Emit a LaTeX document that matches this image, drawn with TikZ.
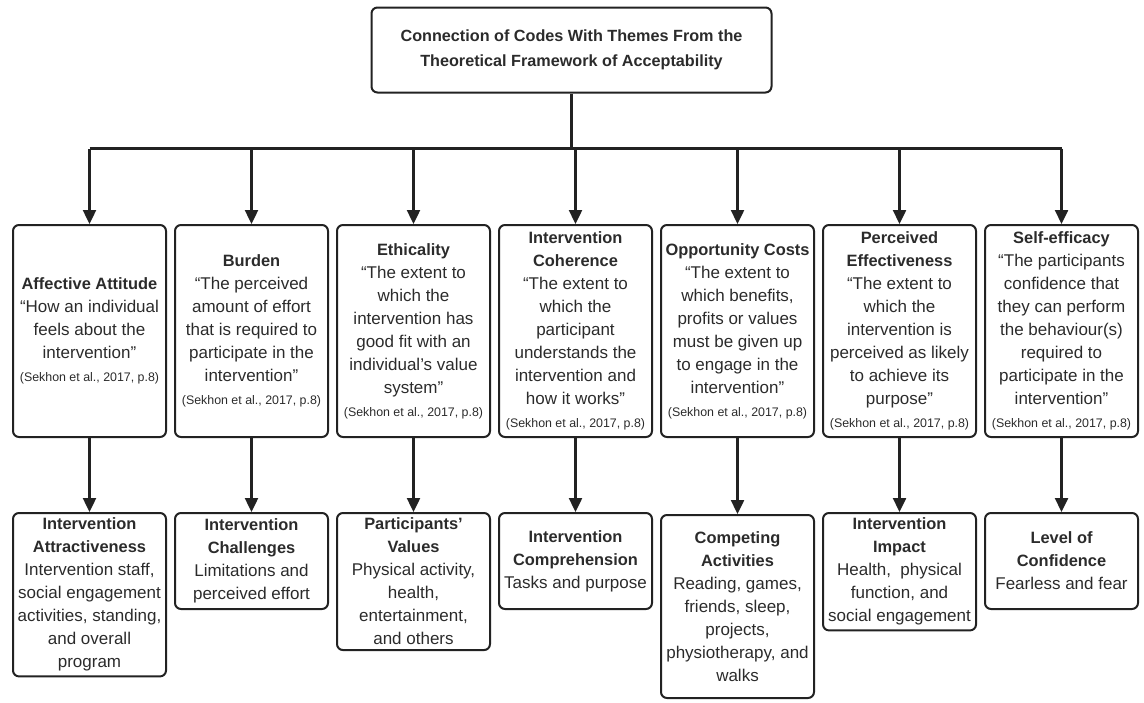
\documentclass[tikz,border=0pt]{standalone}
\usepackage{fontspec}
\setmainfont{Liberation Sans}
\usepackage{xcolor}
\usepackage{tikz}
\usetikzlibrary{arrows.meta, positioning}
\definecolor{ink}{HTML}{2B2B2B}
\definecolor{edge}{HTML}{222222}
\newcommand{\themehead}[1]{{\fontsize{8.2}{11.5}\selectfont\bfseries #1}}
\newcommand{\sekhon}{{\fontsize{6.2}{8}\selectfont (Sekhon et al., 2017, p.8)}}
\tikzset{
  header/.style={rectangle, rounded corners=3pt, draw=edge, line width=1pt, align=center, text=ink, font=\fontsize{8.1}{12.5}\selectfont\bfseries, minimum width=200pt, minimum height=42.5pt},
  theme/.style={rectangle, rounded corners=3pt, draw=edge, line width=1pt, align=center, text=ink, font=\fontsize{8.5}{11.5}\selectfont, minimum width=76.5pt, minimum height=106pt, inner xsep=1pt},
  code/.style={rectangle, rounded corners=3pt, draw=edge, line width=1pt, align=center, text=ink, font=\fontsize{8.5}{11.5}\selectfont, minimum width=76.5pt, minimum height=48pt, inner xsep=1pt, inner ysep=2.5pt},
  conn/.style={line width=1.2pt, edge},
  arr/.style={-{Triangle[length=7pt, width=6.5pt]}, line width=1.2pt, edge},
}
\begin{document}
\begin{tikzpicture}[x=1pt, y=1pt, node distance=3.5pt]
\useasboundingbox (0,0) rectangle (572,-351);
\node[header] (title) at (285.75,-25) {Connection of Codes With Themes From the\\Theoretical Framework of Acceptability};
% themes of the framework
\node[theme, anchor=north west] (aff) at (6,-112) {\themehead{Affective Attitude}\\“How an individual\\feels about the\\intervention”\\\sekhon};
\node[theme, right=of aff] (bur) {\themehead{Burden}\\“The perceived\\amount of effort\\that is required to\\participate in the\\intervention”\\\sekhon};
\node[theme, right=of bur] (eth) {\themehead{Ethicality}\\“The extent to\\which the\\intervention has\\good fit with an\\individual’s value\\system”\\\sekhon};
\node[theme, right=of eth] (coh) {\themehead{Intervention}\\\themehead{Coherence}\\“The extent to\\which the\\participant\\understands the\\intervention and\\how it works”\\\sekhon};
\node[theme, right=of coh] (opp) {\themehead{Opportunity Costs}\\“The extent to\\which benefits,\\profits or values\\must be given up\\to engage in the\\intervention”\\\sekhon};
\node[theme, right=of opp] (eff) {\themehead{Perceived}\\\themehead{Effectiveness}\\“The extent to\\which the\\intervention is\\perceived as likely\\to achieve its\\purpose”\\\sekhon};
\node[theme, right=of eff] (self) {\themehead{Self-efficacy}\\“The participants\\confidence that\\they can perform\\the behaviour(s)\\required to\\participate in the\\intervention”\\\sekhon};
% codes
\node[code, below=37pt of aff] (attr) {\themehead{Intervention}\\\themehead{Attractiveness}\\Intervention staff,\\social engagement\\activities, standing,\\and overall\\program};
\node[code, below=37pt of bur] (chal) {\themehead{Intervention}\\\themehead{Challenges}\\Limitations and\\perceived effort};
\node[code, below=37pt of eth] (vals) {\themehead{Participants’}\\\themehead{Values}\\Physical activity,\\health,\\entertainment,\\and others};
\node[code, below=37pt of coh] (comp) {\themehead{Intervention}\\\themehead{Comprehension}\\Tasks and purpose};
\node[code, below=38pt of opp, minimum height=91.5pt] (act) {\themehead{Competing}\\\themehead{Activities}\\Reading, games,\\friends, sleep,\\projects,\\physiotherapy, and\\walks};
\node[code, below=37pt of eff] (imp) {\themehead{Intervention}\\\themehead{Impact}\\Health,\ \ physical\\function, and\\social engagement};
\node[code, below=37pt of self] (conf) {\themehead{Level of}\\\themehead{Confidence}\\Fearless and fear};
% connectors
\coordinate[below=27.5pt of title] (split);
\draw[conn] (title.south) -- (split);
\draw[conn] (aff.north |- split) -- (self.north |- split);
\foreach \t/\c in {aff/attr, bur/chal, eth/vals, coh/comp, opp/act, eff/imp, self/conf} {
  \draw[arr] (\t.north |- split) -- (\t.north);
  \draw[arr] (\t.south) -- (\c.north);
}
\end{tikzpicture}
\end{document}
